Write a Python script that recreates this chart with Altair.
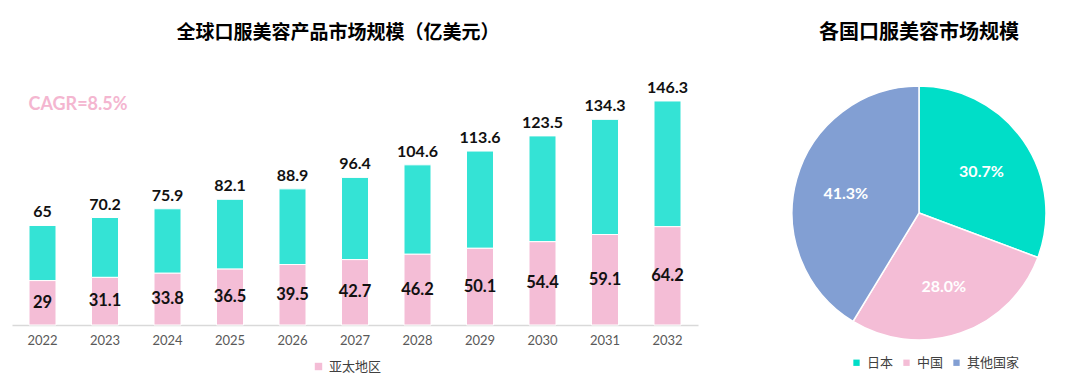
import altair as alt
import pandas as pd

# ---- data ----
years = ["2022", "2023", "2024", "2025", "2026", "2027", "2028", "2029", "2030", "2031", "2032"]
totals = [65, 70.2, 75.9, 82.1, 88.9, 96.4, 104.6, 113.6, 123.5, 134.3, 146.3]
apac = [29, 31.1, 33.8, 36.5, 39.5, 42.7, 46.2, 50.1, 54.4, 59.1, 64.2]
series_name = "亚太地区"
cagr_text = "CAGR=8.5%"

countries = ["日本", "中国", "其他国家"]
shares = [30.7, 28.0, 41.3]

bar_teal = "#34E3D5"
pink = "#F4BDD6"
pie_colors = ["#00DEC8", "#F4BDD6", "#829FD3"]

CJK = "Noto Sans CJK SC"
NUM = "Lato"

df = pd.DataFrame({
    "year": years,
    "total": totals,
    "apac": apac,
    "series": series_name,
    "total_lbl": [f"{v:g}" for v in totals],
    "apac_lbl": [f"{v:g}" for v in apac],
})

x_enc = alt.X(
    "year:N",
    sort=years,
    scale=alt.Scale(paddingInner=0.568, paddingOuter=0.272),
    axis=alt.Axis(title=None, labelAngle=0, domainColor="#D9D9D9", domainWidth=1.5,
                  ticks=False, labelColor="#595959", labelFontSize=13, labelFont=NUM,
                  labelPadding=9),
)
y_scale = alt.Scale(domain=[0, 160], nice=False)

base = alt.Chart(df)

teal_bars = base.mark_bar(color=bar_teal, stroke="white", strokeWidth=1).encode(
    x=x_enc,
    y=alt.Y("apac:Q", scale=y_scale, axis=None),
    y2="total:Q",
)

pink_bars = base.mark_bar(stroke="white", strokeWidth=1).encode(
    x=x_enc,
    y=alt.Y("apac:Q", scale=y_scale, axis=None),
    color=alt.Color(
        "series:N",
        scale=alt.Scale(domain=[series_name], range=[pink]),
        legend=alt.Legend(title=None, orient="none", legendX=300, legendY=280,
                          symbolType="square", symbolSize=55, symbolStrokeWidth=0,
                          labelFontSize=13, labelFont=CJK, labelColor="#404040"),
    ),
)

total_labels = base.mark_text(baseline="alphabetic", dy=-8, fontSize=16, fontWeight="bold",
                              font=NUM, color="#111111").encode(
    x=x_enc,
    y=alt.Y("total:Q", scale=y_scale, axis=None),
    text="total_lbl:N",
)

apac_labels = base.transform_calculate(mid="datum.apac / 2").mark_text(
    baseline="middle", fontSize=16.5, fontWeight="bold", font=NUM, color="#111111"
).encode(
    x=x_enc,
    y=alt.Y("mid:Q", scale=y_scale, axis=None),
    text="apac_lbl:N",
)

cagr = alt.Chart(pd.DataFrame({"t": [cagr_text]})).mark_text(
    fontSize=18, fontWeight="bold", font=NUM, color="#F4B6D0", align="center", baseline="middle"
).encode(x=alt.value(66), y=alt.value(25), text="t:N")

left = alt.layer(teal_bars, pink_bars, total_labels, apac_labels, cagr).properties(
    width=686, height=245,
    title=alt.TitleParams("全球口服美容产品市场规模（亿美元）", fontSize=19, font=CJK,
                          fontWeight="bold", color="#000000", anchor="middle", dx=-17, offset=37),
)

# ---- pie ----
pie_df = pd.DataFrame({
    "country": countries,
    "share": shares,
    "idx": list(range(len(countries))),
    "lbl": [f"{v:.1f}%" for v in shares],
})

pie_base = alt.Chart(pie_df)
arc = pie_base.mark_arc(outerRadius=127, stroke="white", strokeWidth=1.5).encode(
    theta=alt.Theta("share:Q", stack=True),
    order=alt.Order("idx:Q"),
    color=alt.Color(
        "country:N",
        scale=alt.Scale(domain=countries, range=pie_colors),
        legend=alt.Legend(title=None, orient="none", legendX=58, legendY=276,
                          direction="horizontal", symbolType="square", symbolSize=40,
                          symbolStrokeWidth=0, labelFontSize=13, labelFont=CJK,
                          labelColor="#404040", columnPadding=6, labelOffset=4),
    ),
    x=alt.value(127),
    y=alt.value(133),
)
pie_text = pie_base.mark_text(radius=76, fontSize=16, fontWeight="bold", font=NUM,
                              color="white").encode(
    theta=alt.Theta("share:Q", stack=True),
    order=alt.Order("idx:Q"),
    text="lbl:N",
    x=alt.value(127),
    y=alt.value(135),
)

right = alt.layer(arc, pie_text).properties(
    width=254, height=245,
    title=alt.TitleParams("各国口服美容市场规模", fontSize=20, font=CJK,
                          fontWeight="bold", color="#000000", anchor="middle", offset=37),
)

chart = alt.hconcat(left, right, spacing=91).resolve_scale(color="independent").properties(
    padding={"left": 4, "top": 15, "right": 0, "bottom": 0}
).configure_view(stroke=None)

chart.save("out.html", embed_options={"renderer": "svg", "actions": False})
